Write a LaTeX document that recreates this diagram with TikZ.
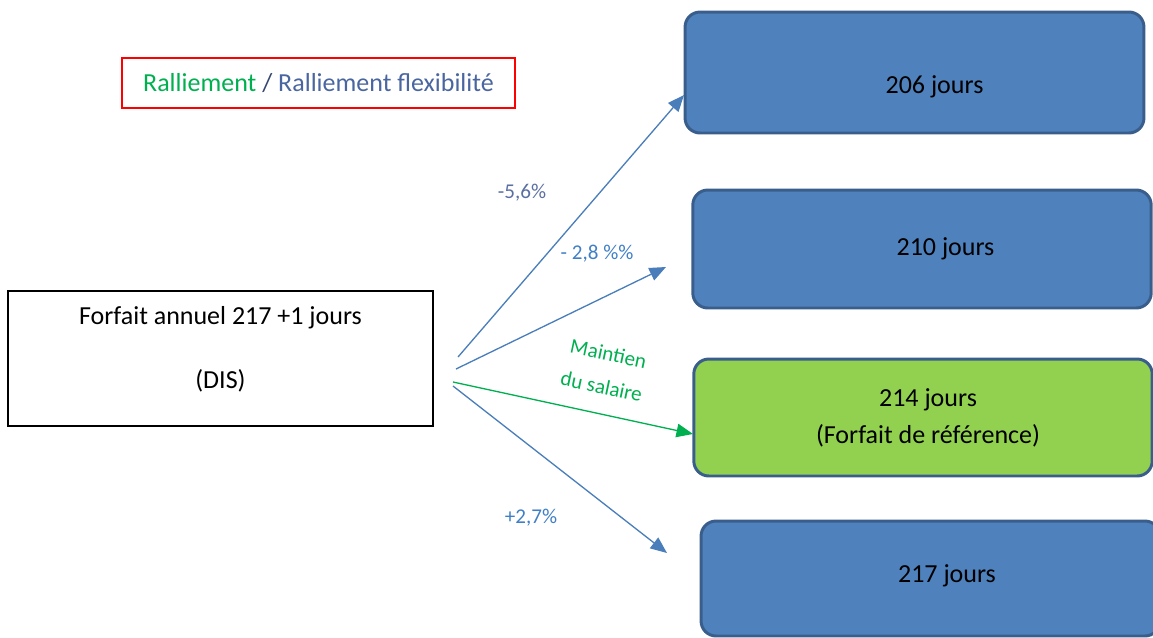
\documentclass[tikz,border=0pt]{standalone}
\usepackage{fontspec}
\setmainfont{Carlito}
\usepackage{xcolor}
\usepackage{tikz}
\usetikzlibrary{arrows.meta,positioning}

\definecolor{boxblue}{HTML}{4F81BD}
\definecolor{boxedge}{HTML}{3A5E8C}
\definecolor{boxgreen}{HTML}{92D050}
\definecolor{arrblue}{HTML}{4A7EBB}
\definecolor{pctblue}{HTML}{3F7FC6}
\definecolor{pctgrey}{HTML}{5B6FA3}
\definecolor{ralgreen}{HTML}{00B050}
\definecolor{flexblue}{HTML}{4A66A0}

\begin{document}
\begin{tikzpicture}[x=0.02cm, y=-0.02cm,
  font=\fontsize{14.8}{18}\selectfont,
  day/.style={draw=boxedge, line width=1.7pt, rounded corners=0.3cm, fill=boxblue,
              minimum width=9.17cm, minimum height=2.36cm, inner sep=0pt, align=center},
  src/.style={draw=black, line width=0.85pt, minimum width=8.5cm, minimum height=2.7cm, inner sep=0pt},
  leg/.style={draw=red, line width=0.7pt, minimum width=7.86cm, minimum height=1cm, inner sep=0pt},
  pct/.style={font=\fontsize{12}{15}\selectfont, inner sep=1pt},
  arr/.style={-{Triangle[length=3.3mm, width=2.7mm]}, line width=0.75pt, draw=arrblue}]
\useasboundingbox (0,0) rectangle (1153,637);
\clip (0,0) rectangle (1153,637);
% --- legend ---
\node[leg] (legend) at (318.5,83) {\textcolor{ralgreen}{Ralliement} \textcolor{flexblue!70!black}{/} \textcolor{flexblue}{Ralliement flexibilité}};
% --- starting point ---
\node[src] (dis) at (220.5,358.5)
  {\raisebox{0.16cm}[\height][\depth]{\begin{tabular}{@{}c@{}}Forfait annuel 217 +1 jours\\[18.6pt](DIS)\end{tabular}}};
% --- outcomes ---
\node[day, minimum width=9.18cm, minimum height=2.42cm] (d206) at (914.5,72.5) {\raisebox{-0.28cm}[\height][\depth]{\hspace*{0.8cm}206 jours}};
\node[day] (d210) at (922,249) {\hspace*{0.94cm}210 jours};
\node[day, fill=boxgreen, minimum height=2.34cm] (d214) at (923,417.5) {\hspace*{0.2cm}214 jours\\[3pt]\hspace*{0.2cm}(Forfait de référence)};
\node[day, minimum width=9.18cm, minimum height=2.3cm] (d217) at (930.5,578.5) {\raisebox{0.06cm}[\height][\depth]{\hspace*{0.66cm}217 jours}};
% --- arrow ends ---
\coordinate (s1) at (458,357);
\coordinate (s2) at (456,369);
\coordinate (s3) at (453,382);
\coordinate (s4) at (453,386);
\coordinate (e1) at (684,95);
\coordinate (e2) at (666,267);
\coordinate (e3) at (693,434);
\coordinate (e4) at (667,553);
% --- arrows ---
\draw[arr] (s1) -- (e1);
\draw[arr] (s2) -- (e2);
\draw[arr, draw=ralgreen] (s3) -- (e3);
\draw[arr] (s4) -- (e4);
% --- percentages ---
\node[pct, text=pctgrey] (p56) at (522,193) {-5,6\%};
\node[pct, text=pctblue] (p28) at (597,254) {- 2,8 \%\%};
\node[pct, text=ralgreen, align=center, rotate=-12, inner sep=0pt] (msal) at (605,370) {Maintien\\[4pt]du salaire};
\node[pct, text=pctblue] (p27) at (531,518) {+2,7\%};
\end{tikzpicture}
\end{document}
